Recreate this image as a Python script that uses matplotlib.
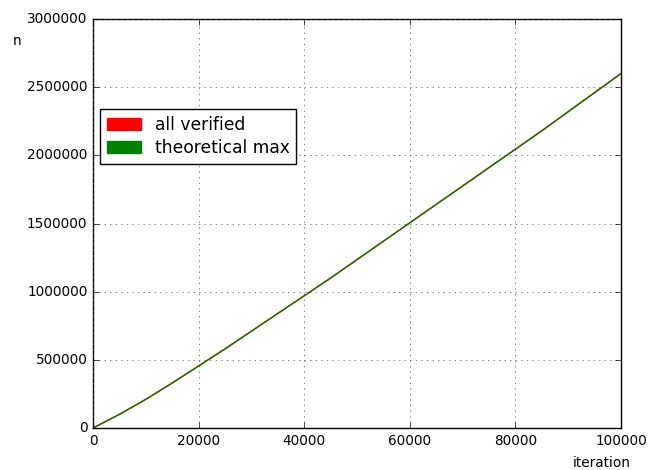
import matplotlib
matplotlib.use('Agg')
import matplotlib.pyplot as plt
import matplotlib.patches as mpatches

plt.style.use('classic')

iterations = [0, 5000, 10000, 15000, 20000, 25000, 30000, 35000, 40000, 45000, 50000,
              55000, 60000, 65000, 70000, 75000, 80000, 85000, 90000, 95000, 100000]
all_verified = [0, 100000, 210000, 330000, 455000, 580000, 710000, 840000, 970000, 1100000, 1235000,
                1370000, 1505000, 1640000, 1775000, 1910000, 2045000, 2180000, 2320000, 2460000, 2600000]
theoretical_max = list(all_verified)

fig = plt.figure(figsize=(6.71, 4.70), dpi=100, facecolor='white')
ax = fig.add_axes([93/671, 1 - 428/470, 528/671, 409/470])

# red curve sits under the green one
ax.plot(iterations, all_verified, color='red', lw=1.0)
ax.plot(iterations, theoretical_max, color='green', lw=1.0)

ax.set_xlim(0, 100000)
ax.set_ylim(0, 3000000)
ax.ticklabel_format(useOffset=False, style='plain')
ax.tick_params(labelsize=9.8)
ax.grid(True, color='0.3', linestyle=':')

ax.set_xlabel('iteration', fontsize=9.8)
ax.set_ylabel('n', fontsize=9.8, rotation=0)
ax.xaxis.set_label_coords(0.964, -0.069)
ax.yaxis.set_label_coords(-0.144, 0.929)

handles = [mpatches.Patch(color='red', label='all verified'),
           mpatches.Patch(color='green', label='theoretical max')]
ax.legend(handles=handles, loc='upper left', bbox_to_anchor=(0.013, 0.78),
          borderaxespad=0, fontsize=12.3, labelspacing=0.3, borderpad=0.4)

fig.savefig('out.png', dpi=100, facecolor='white')
